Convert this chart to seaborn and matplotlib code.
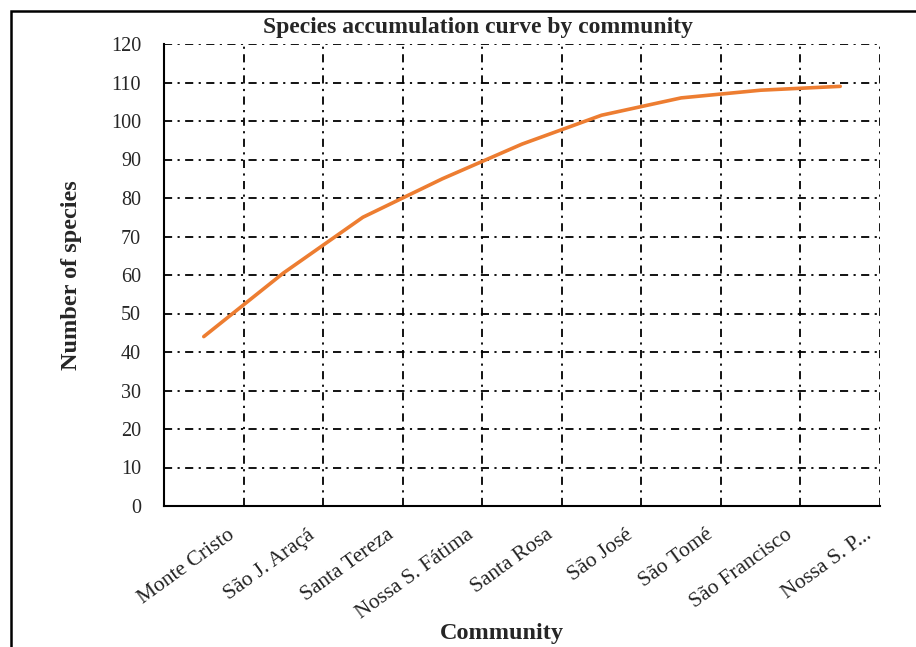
import numpy as np
import pandas as pd
import matplotlib
matplotlib.use('Agg')
import matplotlib.pyplot as plt
from matplotlib.patches import Rectangle
import seaborn as sns

# data
communities = ['Monte Cristo', 'São J. Araçá', 'Santa Tereza', 'Nossa S. Fátima',
               'Santa Rosa', 'São José', 'São Tomé', 'São Francisco', 'Nossa S. P...']
species = [44, 60.5, 75, 85, 94, 101.5, 106, 108, 109]
y_ticks = list(range(0, 121, 10))

sns.set_style('white')
plt.rcParams['font.family'] = ['Liberation Serif', 'DejaVu Serif']

df = pd.DataFrame({'community': communities, 'species': species})

fig = plt.figure(figsize=(9.16, 6.47), dpi=100)
ax = fig.add_axes([164 / 916, 1 - 506 / 647, 716 / 916, 462 / 647])

sns.lineplot(data=df, x='community', y='species', sort=False, ax=ax,
             color='#ED7D31', linewidth=2.6)

n = len(communities)
ax.set_xlim(-0.5, n - 0.5)
ax.set_ylim(0, 120)

# grid on category boundaries; labels sit just right of each category centre
ax.set_xticks(np.arange(-0.5, n, 1.0))
ax.set_xticklabels([])
ax.set_xticks(np.arange(n) + 0.3, minor=True)
ax.set_xticklabels(communities, minor=True, rotation=36, ha='right', va='top',
                   rotation_mode='anchor', fontsize=15.5, color='#222222')
ax.tick_params(axis='x', which='minor', length=0, pad=14)
ax.tick_params(axis='x', which='major', direction='out', length=6, width=1.2, color='black')

ax.set_yticks(y_ticks)
ax.set_yticklabels([str(v) for v in y_ticks], fontsize=14.5)
ax.tick_params(axis='y', direction='inout', length=10, width=1.2, color='black', pad=11.5)

ax.grid(True, which='major', color='black', linewidth=1.3, dashes=(4.5, 3, 1.2, 3))

for side in ['top', 'right']:
    ax.spines[side].set_visible(False)
for side in ['left', 'bottom']:
    ax.spines[side].set_color('black')
    ax.spines[side].set_linewidth(1.5)

ax.set_xlabel('')
ax.set_ylabel('')
fig.text(478 / 916, 1 - 28 / 647, 'Species accumulation curve by community',
         ha='center', va='center', fontsize=17, fontweight='bold')
fig.text(72 / 916, 1 - 275 / 647, 'Number of species', rotation=90,
         ha='center', va='center', fontsize=17.5, fontweight='bold')
fig.text(502 / 916, 1 - 633 / 647, 'Community',
         ha='center', va='center', fontsize=17.5, fontweight='bold')

# outer frame (right and bottom edges fall outside the image)
fig.patches.append(Rectangle((11 / 916, -0.05), 1.0, 1.05 - 11 / 647,
                             transform=fig.transFigure, fill=False,
                             edgecolor='black', linewidth=1.8))

fig.savefig('out.png', dpi=100)
